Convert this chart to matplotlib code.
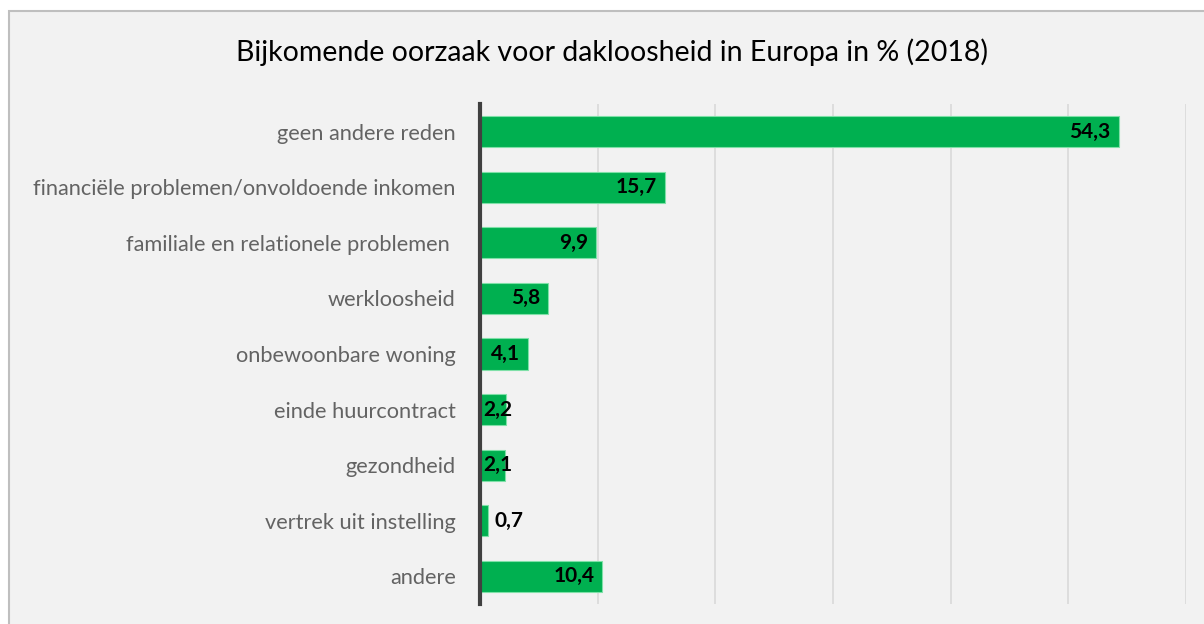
import matplotlib.pyplot as plt
from matplotlib.patches import Rectangle

# data
categories = ["geen andere reden",
              "financiële problemen/onvoldoende inkomen",
              "familiale en relationele problemen ",
              "werkloosheid",
              "onbewoonbare woning",
              "einde huurcontract",
              "gezondheid",
              "vertrek uit instelling",
              "andere"]
values = [54.3, 15.7, 9.9, 5.8, 4.1, 2.2, 2.1, 0.7, 10.4]
title = "Bijkomende oorzaak voor dakloosheid in Europa in % (2018)"

bar_color = "#00b050"
bg_color = "#f2f2f2"

fig = plt.figure(figsize=(12.04, 6.24), dpi=100)
fig.patch.set_facecolor("white")
# chart area frame
fig.patches.append(Rectangle((9 / 1204, -0.1), 1.1, 1 - 11 / 624 + 0.1,
                             transform=fig.transFigure, facecolor=bg_color,
                             edgecolor="#bfbfbf", linewidth=1.5, zorder=-10))

ax = fig.add_axes([480 / 1204, 1 - 604 / 624, (1186 - 480) / 1204, (604 - 104) / 624])
ax.set_facecolor(bg_color)
ax.patch.set_alpha(0)

ypos = list(range(len(categories)))
ax.barh(ypos, values, height=0.56, color=bar_color, edgecolor="#7fe0a8",
        linewidth=0.8, zorder=3)

ax.set_xlim(0, 60)
ax.set_ylim(len(categories) - 0.5, -0.5)
ax.set_xticks(range(0, 61, 10))
ax.grid(axis="x", color="#d9d9d9", linewidth=1.2, zorder=0)
ax.tick_params(axis="x", bottom=False, labelbottom=False)
ax.tick_params(axis="y", left=False, pad=14)
ax.set_yticks(ypos)
ax.set_yticklabels(categories, fontsize=15.7, color="#636363", family="Lato")
for side in ["top", "right", "bottom"]:
    ax.spines[side].set_visible(False)
ax.spines["left"].set_color("#404040")
ax.spines["left"].set_linewidth(3)
ax.spines["left"].set_zorder(5)

for y, v in zip(ypos, values):
    txt = f"{v:.1f}".replace(".", ",")
    if v >= 4:
        ax.text(v - 0.7, y, txt, ha="right", va="center", fontsize=15,
                fontweight="bold", family="Lato", zorder=6)
    elif v >= 2:
        ax.text(0.25, y, txt, ha="left", va="center", fontsize=15,
                fontweight="bold", family="Lato", zorder=6)
    else:
        ax.text(v + 0.55, y, txt, ha="left", va="center", fontsize=15,
                fontweight="bold", family="Lato", zorder=6)

fig.text(612 / 1204, 1 - 52 / 624, title, ha="center", va="center",
         fontsize=20.5, family="Lato", color="black")

fig.savefig("out.png", dpi=100, facecolor=fig.get_facecolor())
